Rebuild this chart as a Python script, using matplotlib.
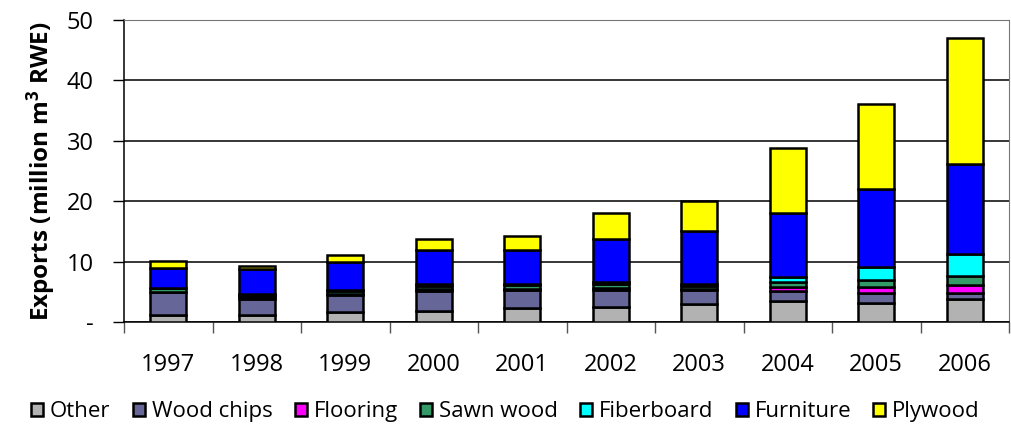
import numpy as np
import matplotlib
matplotlib.use("Agg")
import matplotlib.pyplot as plt

plt.rcParams['font.family'] = ['Open Sans', 'DejaVu Sans']
plt.rcParams['mathtext.fontset'] = 'custom'
plt.rcParams['mathtext.bf'] = 'Open Sans:bold'
plt.rcParams['mathtext.rm'] = 'Open Sans'

years = ['1997', '1998', '1999', '2000', '2001', '2002', '2003', '2004', '2005', '2006']

# million m3 RWE
other      = [1.1, 1.1, 1.6, 1.85, 2.25, 2.5, 2.9, 3.5, 3.15, 3.8]
wood_chips = [3.8, 2.7, 2.9, 3.35, 3.05, 2.8, 2.4, 1.6, 1.65, 1.0]
flooring   = [0.1, 0.3, 0.1, 0.2, 0.2, 0.3, 0.2, 0.7, 1.0, 1.3]
sawn_wood  = [0.6, 0.4, 0.6, 0.6, 0.6, 0.7, 0.5, 0.8, 1.1, 1.5]
fiberboard = [0.1, 0.2, 0.1, 0.3, 0.2, 0.4, 0.3, 0.9, 2.2, 3.6]
furniture  = [3.2, 4.0, 4.6, 5.6, 5.6, 7.0, 8.7, 10.6, 13.0, 14.9]
plywood    = [1.2, 0.6, 1.2, 1.8, 2.4, 4.3, 5.0, 10.7, 14.0, 20.9]

series = [
    ('Other', other, '#b2b2b2'),
    ('Wood chips', wood_chips, '#666699'),
    ('Flooring', flooring, '#ff00ff'),
    ('Sawn wood', sawn_wood, '#339966'),
    ('Fiberboard', fiberboard, '#00ffff'),
    ('Furniture', furniture, '#0000ff'),
    ('Plywood', plywood, '#ffff00'),
]

fig = plt.figure(figsize=(10.11, 4.25), dpi=100)
ax = fig.add_axes([124/1011, 1 - 322/425, (1009-124)/1011, (322-20)/425])

x = np.arange(len(years))
bottom = np.zeros(len(years))
handles = []
for name, vals, col in series:
    b = ax.bar(x, vals, width=0.41, bottom=bottom, color=col,
               edgecolor='black', linewidth=1.8, label=name, zorder=3)
    handles.append(b)
    bottom += np.array(vals)

ax.set_xlim(-0.5, len(years) - 0.5)
ax.set_ylim(0, 50)
ax.set_yticks([0, 10, 20, 30, 40, 50])
ax.set_yticklabels(['-', '10', '20', '30', '40', '50'])
ax.yaxis.grid(True, color='black', linewidth=1.1, zorder=0)
ax.set_axisbelow(True)

ax.set_xticks(x)
ax.set_xticklabels(years)
ax.set_xticks(np.arange(-0.5, len(years)), minor=True)
ax.tick_params(axis='x', which='major', length=0, pad=22, labelsize=17)
ax.tick_params(axis='x', which='minor', length=8, width=1, color='#555555')
ax.tick_params(axis='y', length=8, width=1, pad=14, labelsize=17)

for s in ['left', 'bottom']:
    ax.spines[s].set_color('black')
    ax.spines[s].set_linewidth(1.1)
for s in ['top', 'right']:
    ax.spines[s].set_color('#777777')
    ax.spines[s].set_linewidth(0.8)

ax.set_ylabel(r'Exports (million m$\mathbf{^3}$ RWE)', fontsize=17.5,
              fontweight='bold', labelpad=6)

fig.legend(handles=handles, loc='center', bbox_to_anchor=(0.5, 0.031),
           ncol=7, frameon=False, fontsize=16, handlelength=0.55,
           handleheight=0.55, handletextpad=0.3, columnspacing=1.0,
           borderaxespad=0, borderpad=0)

fig.savefig('out.png', dpi=100)
